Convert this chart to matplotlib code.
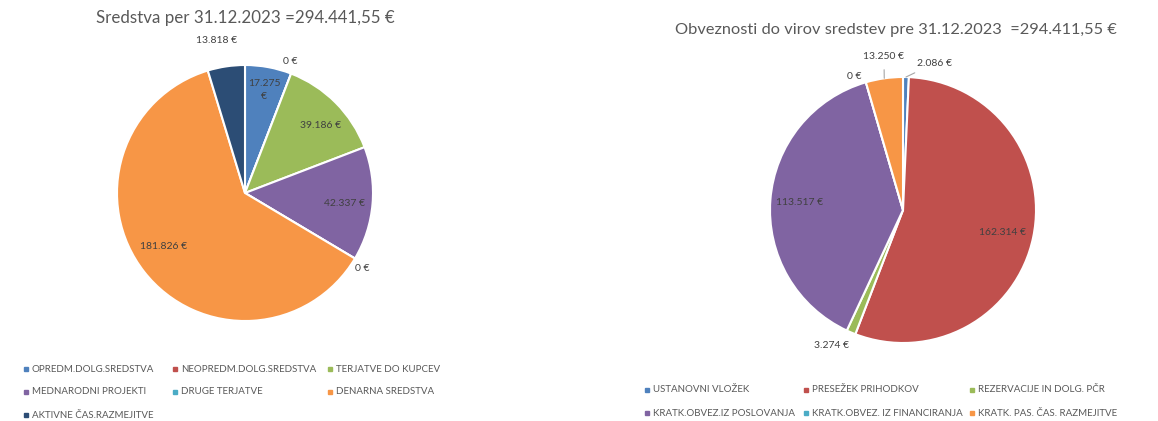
import numpy as np
import matplotlib
matplotlib.use("Agg")
import matplotlib.pyplot as plt
from matplotlib.patches import Rectangle

plt.rcParams["font.family"] = ["Lato", "DejaVu Sans"]

# left chart - assets
assets_labels = ["OPREDM.DOLG.SREDSTVA", "NEOPREDM.DOLG.SREDSTVA", "TERJATVE DO KUPCEV",
                 "MEDNARODNI PROJEKTI", "DRUGE TERJATVE", "DENARNA SREDSTVA",
                 "AKTIVNE ČAS.RAZMEJITVE"]
assets_values = [17275, 0, 39186, 42337, 0, 181826, 13818]
assets_text = ["17.275\n€", "0 €", "39.186 €", "42.337 €", "0 €", "181.826 €", "13.818 €"]
assets_colors = ["#4F81BD", "#C0504D", "#9BBB59", "#8064A2", "#4BACC6", "#F79646", "#2C4D75"]
# label radius factor, angle offset (deg)
assets_lpos = [(0.82, 0), (1.09, 2), (0.79, -3), (0.78, -1), (1.09, -2), (0.76, -5), (1.21, 2)]

# right chart - liabilities
liab_labels = ["USTANOVNI VLOŽEK", "PRESEŽEK PRIHODKOV", "REZERVACIJE IN DOLG. PČR",
               "KRATK.OBVEZ.IZ POSLOVANJA", "KRATK.OBVEZ. IZ FINANCIRANJA",
               "KRATK. PAS. ČAS. RAZMEJITVE"]
liab_values = [2086, 162314, 3274, 113517, 0, 13250]
liab_text = ["2.086 €", "162.314 €", "3.274 €", "113.517 €", "0 €", "13.250 €"]
liab_colors = ["#4F81BD", "#C0504D", "#9BBB59", "#8064A2", "#4BACC6", "#F79646"]
liab_lpos = [(1.13, -11), (0.77, -1), (1.15, -5), (0.78, 0), (1.07, 4), (1.16, -1)]
liab_leader = [True, False, False, False, False, True]

W, H = 1158, 421
fig = plt.figure(figsize=(W / 100, H / 100), dpi=100)

TITLE_C = "#595959"
LBL_C = "#404040"


def draw_pie(rect, values, colors, texts, lpos, leaders=None):
    ax = fig.add_axes(rect)
    wedges, _ = ax.pie(values, colors=colors, startangle=90, counterclock=False,
                       wedgeprops=dict(edgecolor="white", linewidth=1.5))
    ax.set_xlim(-1, 1)
    ax.set_ylim(-1, 1)
    ax.set_aspect("equal")
    ax.axis("off")
    for i, w in enumerate(wedges):
        mid = (w.theta1 + w.theta2) / 2
        r, off = lpos[i]
        a = np.deg2rad(mid + off)
        x, y = r * np.cos(a), r * np.sin(a)
        if leaders is not None and leaders[i]:
            m = np.deg2rad(mid)
            ax.annotate(texts[i], xy=(np.cos(m), np.sin(m)), xytext=(x, y),
                        ha="center", va="center", fontsize=7.5, color=LBL_C,
                        arrowprops=dict(arrowstyle="-", color="#A6A6A6", lw=0.8,
                                        shrinkA=4, shrinkB=0))
        else:
            ax.text(x, y, texts[i], ha="center", va="center", fontsize=7.5,
                    color=LBL_C, linespacing=1.6)
    return ax


draw_pie([117 / W, 1 - 321 / H, 256 / W, 256 / H], assets_values, assets_colors,
         assets_text, assets_lpos)
draw_pie([770 / W, 1 - 343 / H, 266 / W, 266 / H], liab_values, liab_colors,
         liab_text, liab_lpos, liab_leader)

fig.text(245 / W, 1 - 18 / H, "Sredstva per 31.12.2023 =294.441,55 €",
         ha="center", va="center", fontsize=12.2, color=TITLE_C)
fig.text(896 / W, 1 - 30 / H, "Obveznosti do virov sredstev pre 31.12.2023  =294.411,55 €",
         ha="center", va="center", fontsize=11.8, color=TITLE_C)


def draw_legend(labels, colors, col_x, row_y):
    for i, (lab, c) in enumerate(zip(labels, colors)):
        r, k = divmod(i, 3)
        x, y = col_x[k], row_y[r]
        fig.patches.append(Rectangle(((x - 2) / W, 1 - (y + 2) / H), 4 / W, 4 / H,
                                     transform=fig.transFigure, color=c))
        fig.text((x + 6) / W, 1 - y / H, lab, ha="left", va="center",
                 fontsize=7, color=TITLE_C)


draw_legend(assets_labels, assets_colors, [26, 175, 330], [369, 392, 415])
draw_legend(liab_labels, liab_colors, [647, 806, 972], [390, 413])

fig.savefig("out.png", dpi=100)
